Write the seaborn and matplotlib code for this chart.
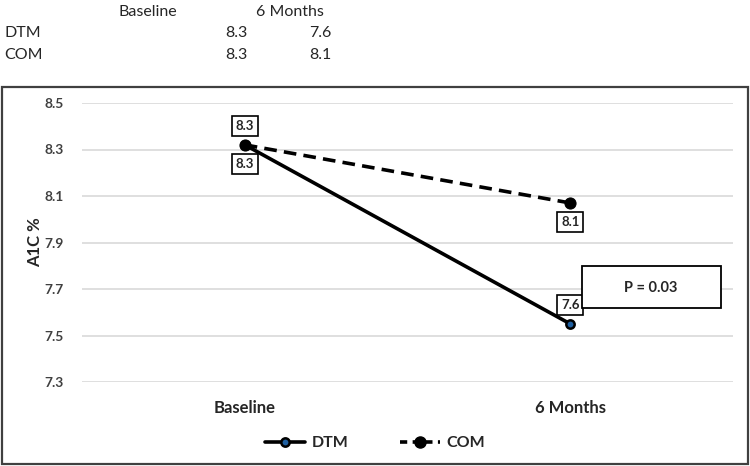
import matplotlib
matplotlib.use("Agg")
import matplotlib.pyplot as plt
import seaborn as sns
import pandas as pd
from matplotlib.lines import Line2D
from matplotlib.patches import Rectangle

categories = ["Baseline", "6 Months"]
dtm = [8.32, 7.55]
com = [8.32, 8.07]
dtm_labels = ["8.3", "7.6"]
com_labels = ["8.3", "8.1"]
y_ticks = [7.3, 7.5, 7.7, 7.9, 8.1, 8.3, 8.5]
p_text = "P = 0.03"

sns.set_theme(style="white")
plt.rcParams['font.family'] = ['Lato', 'DejaVu Sans']

fig = plt.figure(figsize=(7.5, 4.66), dpi=100)
ax = fig.add_axes([82/750, 1-382/466, (733-82)/750, (382-103)/466])

sns.lineplot(x=categories, y=dtm, ax=ax, color="black", lw=2.6, marker="o",
             markersize=6, markerfacecolor="#1f5fa0", markeredgecolor="black",
             markeredgewidth=1.8, sort=False)
sns.lineplot(x=categories, y=com, ax=ax, color="black", lw=2.6, marker="o",
             markersize=8, markerfacecolor="black", markeredgecolor="black",
             linestyle=(0, (3.5, 2)), sort=False)

ax.set_xlim(-0.5, 1.5)
ax.set_ylim(7.3, 8.5)
ax.set_yticks(y_ticks)
ax.set_yticklabels([f"{v:.1f}" for v in y_ticks], fontsize=10, fontweight="bold", color="#404040")
ax.tick_params(axis="x", labelsize=12, colors="#262626", pad=13)
for t in ax.get_xticklabels():
    t.set_fontweight("bold")
ax.tick_params(axis="y", pad=13, length=0)
ax.tick_params(axis="x", length=0)
ax.grid(axis="y", color="#d9d9d9", lw=1.2)
ax.set_axisbelow(True)
for s in ax.spines.values():
    s.set_visible(False)
ax.set_ylabel("A1C %", fontsize=12, fontweight="bold", color="#262626")
ax.yaxis.set_label_coords((43-82)/651, 0.5)
ax.set_xlabel("")

bbox = dict(boxstyle="square,pad=0.3", fc="white", ec="black", lw=1.2)
offs = 13.7
ann = dict(textcoords="offset points", ha="center", va="center", fontsize=9.5,
           fontweight="bold", color="#262626", bbox=bbox)
ax.annotate(com_labels[0], (0, com[0]), xytext=(0, offs), **ann)
ax.annotate(dtm_labels[0], (0, dtm[0]), xytext=(0, -offs), **ann)
ax.annotate(com_labels[1], (1, com[1]), xytext=(0, -offs), **ann)
ax.annotate(dtm_labels[1], (1, dtm[1]), xytext=(0, offs), **ann)

# P value box
fig.patches.append(Rectangle((582/750, 1-308/466), (721-582)/750, (308-266)/466,
                             transform=fig.transFigure, fc="white", ec="black", lw=1.3, zorder=5))
fig.text(651/750, 1-288/466, p_text, ha="center", va="center", fontsize=10.5,
         fontweight="bold", color="#262626", zorder=6)

# outer border
fig.patches.append(Rectangle((1.5/750, 2/466), 746.5/750, (464-87)/466,
                             transform=fig.transFigure, fill=False, ec="#404040", lw=1.6))

# legend
handles = [Line2D([], [], color="black", lw=2.6, marker="o", markersize=6,
                  markerfacecolor="#1f5fa0", markeredgecolor="black", markeredgewidth=1.8),
           Line2D([], [], color="black", lw=2.6, marker="o", markersize=8,
                  markerfacecolor="black", linestyle=(0, (2, 1.5)))]
leg = fig.legend(handles, ["DTM", "COM"], loc="center", bbox_to_anchor=(375/750, 1-443/466),
                 ncol=2, frameon=False, handlelength=2.5, columnspacing=3.2, handletextpad=0.4,
                 prop={"size": 11.5, "weight": "bold"})
for t in leg.get_texts():
    t.set_color("#262626")

# data table above
tfs = 11.5
hdr_y = 1-12/466
fig.text(148/750, hdr_y, categories[0], ha="center", va="center", fontsize=tfs, color="#262626")
fig.text(290/750, hdr_y, categories[1], ha="center", va="center", fontsize=tfs, color="#262626")
for name, vals, yy in [("DTM", dtm_labels, 33), ("COM", com_labels, 55)]:
    fy = 1-yy/466
    fig.text(4/750, fy, name, ha="left", va="center", fontsize=tfs, color="#262626")
    fig.text(236/750, fy, vals[0], ha="center", va="center", fontsize=tfs, color="#262626")
    fig.text(320/750, fy, vals[1], ha="center", va="center", fontsize=tfs, color="#262626")

fig.savefig("out.png", dpi=100)
